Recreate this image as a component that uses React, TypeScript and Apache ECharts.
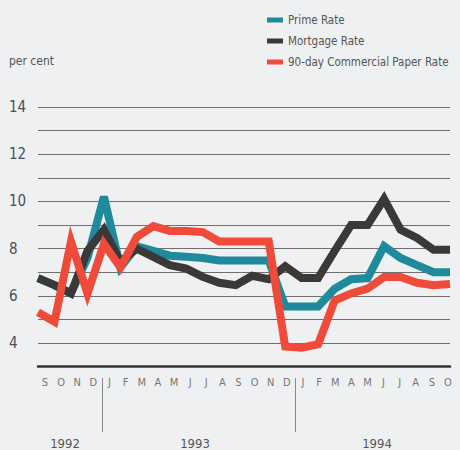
import React, { useEffect, useRef } from "react";
import * as echarts from "echarts";

// Sep 1992 .. Oct 1994, monthly
const periods = [
  "1992-09","1992-10","1992-11","1992-12",
  "1993-01","1993-02","1993-03","1993-04","1993-05","1993-06","1993-07","1993-08","1993-09","1993-10","1993-11","1993-12",
  "1994-01","1994-02","1994-03","1994-04","1994-05","1994-06","1994-07","1994-08","1994-09","1994-10",
];
const monthLetters = ["S","O","N","D","J","F","M","A","M","J","J","A","S","O","N","D","J","F","M","A","M","J","J","A","S","O"];
const yearLabels = ["1992", "1993", "1994"];

const primeRate = [6.75, 6.45, 6.1, 7.6, 10.2, 7.2, 8.1, 7.9, 7.7, 7.65, 7.6, 7.5, 7.5, 7.5, 7.5, 5.55, 5.55, 5.55, 6.3, 6.7, 6.75, 8.1, 7.6, 7.3, 7.0, 7.0];
const mortgageRate = [6.75, 6.45, 6.1, 7.9, 8.8, 7.45, 8.0, 7.65, 7.3, 7.15, 6.8, 6.55, 6.45, 6.85, 6.7, 7.25, 6.75, 6.75, 7.9, 9.0, 9.0, 10.1, 8.8, 8.45, 7.95, 7.95];
const paperRate = [5.3, 4.9, 8.3, 6.1, 8.2, 7.2, 8.5, 8.95, 8.75, 8.75, 8.7, 8.3, 8.3, 8.3, 8.3, 3.85, 3.8, 3.95, 5.8, 6.1, 6.3, 6.8, 6.8, 6.55, 6.45, 6.5];

const seriesNames = ["Prime Rate", "Mortgage Rate", "90-day Commercial Paper Rate"];
const seriesColors = ["#1f8a9c", "#3a3838", "#f04b3a"];

const FONT = "'DejaVu Sans Condensed', 'Liberation Sans Narrow', sans-serif";

export default function App() {
  const ref = useRef<HTMLDivElement>(null);
  useEffect(() => {
    if (!ref.current) return;
    const chart = echarts.init(ref.current, undefined, { renderer: "svg" });
    const seriesData = [primeRate, mortgageRate, paperRate];
    chart.setOption({
      animation: false,
      backgroundColor: "#eef0f1",
      legend: {
        orient: "vertical",
        left: 262,
        top: 8,
        itemWidth: 16,
        itemHeight: 5,
        itemGap: 7,
        icon: "rect",
        data: seriesNames,
        textStyle: { fontFamily: FONT, fontSize: 11.5, color: "#555", lineHeight: 14 },
      },
      grid: [
        { left: 38, right: 10, top: 107, height: 259.6 },
        { left: 45, right: 12, top: 107, height: 259.6 },
      ],
      xAxis: [
        {
          type: "category",
          gridIndex: 0,
          data: periods,
          boundaryGap: false,
          axisLine: { show: true, lineStyle: { color: "#333", width: 2.5 } },
          axisTick: { show: false },
          axisLabel: { show: false },
          splitLine: { show: false },
        },
        {
          type: "category",
          gridIndex: 1,
          data: monthLetters,
          boundaryGap: false,
          axisLine: { show: false },
          axisTick: { show: false },
          axisLabel: { interval: 0, margin: 10, fontFamily: FONT, fontSize: 11, color: "#777" },
          splitLine: { show: false },
        },
      ],
      yAxis: [
        {
          type: "value",
          gridIndex: 0,
          min: 3,
          max: 14,
          interval: 1,
          axisLine: { show: false },
          axisTick: { show: false },
          axisLabel: {
            align: "left",
            margin: 29,
            fontFamily: FONT,
            fontSize: 15,
            color: "#4a4f5a",
            formatter: (v: number) => (v >= 4 && v % 2 === 0 ? String(v) : ""),
          },
          splitLine: { show: true, lineStyle: { color: "#6f6f6f", width: 1.2 } },
        },
        { type: "value", gridIndex: 1, min: 0, max: 1, show: false },
      ],
      series: seriesNames.map((name, i) => ({
        name,
        type: "line",
        xAxisIndex: 0,
        yAxisIndex: 0,
        data: seriesData[i],
        symbol: "none",
        color: seriesColors[i],
        lineStyle: { width: 8, color: seriesColors[i], join: "miter", cap: "butt" },
        z: 2 + i,
      })),
      graphic: [
        { type: "text", left: 9, top: 55, style: { text: "per cent", fontFamily: FONT, fontSize: 12, fill: "#555" } },
        { type: "line", shape: { x1: 102.5, y1: 378, x2: 102.5, y2: 432 }, style: { stroke: "#888", lineWidth: 1 } },
        { type: "line", shape: { x1: 295.5, y1: 378, x2: 295.5, y2: 432 }, style: { stroke: "#888", lineWidth: 1 } },
        ...yearLabels.map((t, i) => ({
          type: "text",
          x: [65, 195, 377][i],
          y: 443,
          style: { text: t, fontFamily: FONT, fontSize: 13, fill: "#555", align: "center", verticalAlign: "middle" },
        })),
      ],
    });
    return () => chart.dispose();
  }, []);
  return (
    <div
      ref={ref}
      style={{ position: "fixed", left: 0, top: 0, width: 460, height: 450, background: "#eef0f1" }}
    />
  );
}
